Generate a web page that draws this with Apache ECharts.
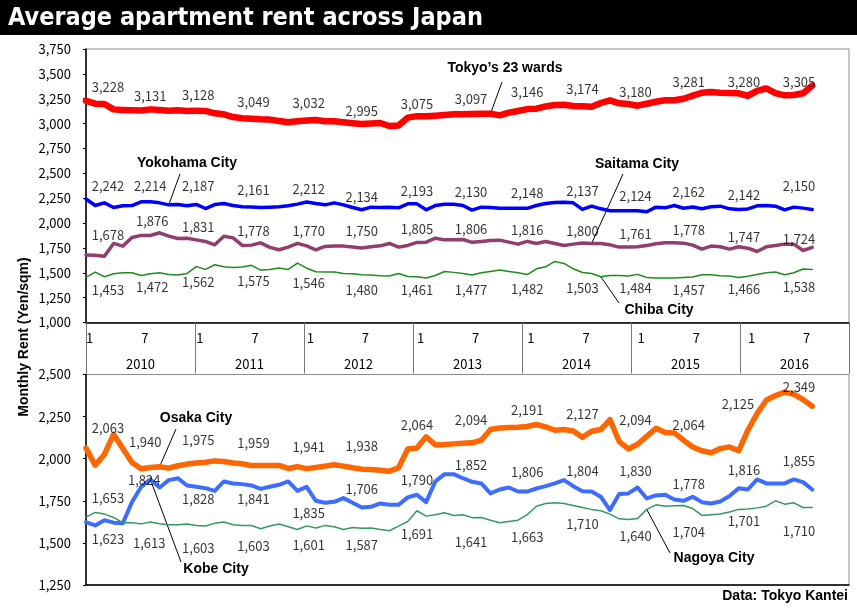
<!DOCTYPE html>
<html><head><meta charset="utf-8">
<script src="https://cdn.jsdelivr.net/npm/echarts@6/dist/echarts.min.js"></script>
<style>html,body{margin:0;padding:0;background:#fff}#c{width:857px;height:612px}</style>
</head><body><div id="c"></div>
<script>
// ---------- data ----------
const years = ['2010','2011','2012','2013','2014','2015','2016'];
const monthTickText = ['1','7'];           // shown at month 1 and month 7 of each year
const labelMonthIdx = [0,6,12,18,24,30,36,42,48,54,60,66,72,78];

const tokyo = [3228,3200,3197,3143,3137,3133,3131,3143,3137,3130,3133,3127,
3128,3127,3103,3093,3066,3053,3049,3043,3040,3026,3013,3023,
3032,3036,3023,3023,3013,3003,2995,3000,3006,2976,2980,3060,
3075,3073,3080,3086,3093,3093,3097,3100,3100,3083,3110,3127,
3146,3150,3173,3187,3190,3177,3174,3170,3207,3234,3204,3197,
3180,3200,3220,3234,3234,3250,3281,3310,3317,3310,3307,3304,
3280,3328,3354,3307,3284,3287,3305,3381];
const yokohama = [2242,2176,2203,2156,2173,2176,2214,2213,2203,2183,2186,2173,
2187,2146,2186,2196,2176,2163,2161,2156,2160,2163,2173,2190,
2212,2196,2183,2203,2183,2156,2134,2160,2156,2160,2153,2193,
2193,2133,2176,2190,2190,2176,2130,2160,2156,2149,2149,2149,
2148,2176,2196,2206,2210,2203,2137,2170,2143,2123,2123,2123,
2124,2113,2160,2153,2176,2149,2162,2143,2163,2170,2143,2136,
2142,2173,2176,2170,2133,2160,2150,2136];
const saitama = [1678,1677,1667,1795,1768,1855,1876,1875,1902,1868,1845,1848,
1831,1815,1781,1868,1851,1775,1778,1801,1755,1731,1758,1795,
1770,1731,1765,1768,1768,1758,1750,1761,1771,1795,1758,1775,
1805,1808,1848,1831,1831,1835,1806,1815,1825,1828,1808,1788,
1816,1795,1815,1795,1775,1788,1800,1795,1795,1781,1758,1758,
1761,1775,1791,1801,1801,1798,1778,1738,1768,1761,1738,1761,
1747,1714,1761,1775,1788,1788,1724,1755];
const chiba = [1453,1507,1460,1490,1500,1500,1472,1490,1500,1483,1477,1493,
1562,1534,1581,1560,1554,1557,1575,1527,1534,1547,1534,1597,
1546,1510,1507,1507,1493,1490,1480,1477,1470,1467,1493,1463,
1461,1447,1473,1513,1504,1493,1477,1500,1513,1527,1513,1500,
1482,1540,1560,1614,1594,1540,1503,1493,1460,1473,1473,1467,
1484,1453,1447,1447,1447,1453,1457,1480,1480,1470,1467,1453,
1466,1483,1500,1507,1480,1500,1538,1534];
const osaka = [2063,1962,2025,2145,2060,1977,1940,1948,1952,1944,1958,1968,
1975,1979,1987,1983,1975,1970,1959,1960,1960,1960,1942,1952,
1941,1948,1956,1964,1956,1946,1938,1936,1932,1926,1946,2058,
2064,2130,2082,2084,2088,2092,2094,2110,2173,2183,2185,2187,
2191,2203,2189,2169,2173,2165,2127,2163,2173,2232,2102,2058,
2086,2133,2181,2155,2153,2110,2070,2047,2035,2060,2070,2047,
2169,2268,2347,2375,2395,2383,2351,2312];
const kobe = [1623,1604,1635,1620,1616,1742,1833,1877,1829,1873,1884,1841,
1833,1825,1809,1865,1853,1849,1841,1821,1833,1845,1865,1809,
1833,1750,1738,1744,1766,1738,1710,1714,1734,1726,1726,1770,
1786,1742,1865,1908,1908,1884,1863,1853,1794,1817,1829,1805,
1805,1823,1837,1853,1873,1837,1807,1805,1774,1695,1790,1794,
1829,1764,1782,1786,1758,1750,1774,1742,1734,1746,1778,1825,
1817,1877,1853,1853,1853,1877,1861,1817];
const nagoya = [1653,1681,1671,1651,1620,1620,1613,1624,1614,1608,1608,1612,
1603,1600,1616,1624,1608,1604,1603,1584,1600,1612,1596,1580,
1601,1588,1604,1596,1580,1592,1587,1588,1580,1572,1600,1627,
1691,1659,1667,1679,1663,1667,1650,1651,1635,1620,1627,1635,
1668,1718,1734,1738,1734,1722,1710,1699,1691,1671,1643,1639,
1645,1699,1726,1718,1720,1722,1704,1663,1667,1671,1683,1699,
1701,1708,1718,1750,1730,1738,1710,1710];

const tokyoLabels    = [3228,3131,3128,3049,3032,2995,3075,3097,3146,3174,3180,3281,3280,3305];
const yokohamaLabels = [2242,2214,2187,2161,2212,2134,2193,2130,2148,2137,2124,2162,2142,2150];
const saitamaLabels  = [1678,1876,1831,1778,1770,1750,1805,1806,1816,1800,1761,1778,1747,1724];
const chibaLabels    = [1453,1472,1562,1575,1546,1480,1461,1477,1482,1503,1484,1457,1466,1538];
const osakaLabels    = [2063,1940,1975,1959,1941,1938,2064,2094,2191,2127,2094,2064,2125,2349];
const kobeLabels     = [1623,1824,1828,1841,1835,1706,1790,1852,1806,1804,1830,1778,1816,1855];
const nagoyaLabels   = [1653,1613,1603,1603,1601,1587,1691,1641,1663,1710,1640,1704,1701,1710];

// ---------- styles (label placement offsets, px) ----------
const dxCommon   = [22,9,2,2,2,0,0,-1,0,0,-2,-4,-4,-4];
const tokyoDy    = [-14,-14,-16,-17,-17,-13,-12,-15,-17,-17,-14,-14,-14,-11];
const yokohamaDy = [-13,-16,-18,-17,-13,-13,-13,-18,-15,-18,-15,-15,-14,-22];
const saitamaDy  = [-20,-14,-13,-14,-15,-17,-13,-13,-11,-12,-13,-15,-11,-11];
const chibaDy    = [13,12,15,16,15,15,13,15,14,16,14,13,13,18];
const osakaDy    = [-20,-27,-23,-23,-22,-23,-23,-23,-16,-23,-24,-22,-26,-13];
const kobeDy     = [17,-7,12,14,26,-18,-15,-17,-19,-20,-16,-13,-19,-21];
const nagoyaDy   = [-19,19,23,21,19,17,23,24,22,17,18,24,12,24];

const months = years.flatMap(y => Array.from({length:12}, (_, m) => y + '-' + (m + 1)));
const fmt = v => Number(v).toLocaleString('en-US');
const NUMFONT = "'Noto Sans CJK JP', 'Liberation Sans', sans-serif";
const BOLDFONT = "'Liberation Sans', Arial, sans-serif";

function lineSeries(name, data, color, width, xi, yi, z) {
  return { name, type:'line', data, xAxisIndex:xi, yAxisIndex:yi, showSymbol:false, symbol:'none',
    lineStyle:{color, width, join:'round', cap:'round'}, itemStyle:{color}, z, silent:true, animation:false };
}
function labelSeries(values, labels, dys, xi, yi, dxOverride) {
  return { type:'scatter', xAxisIndex:xi, yAxisIndex:yi, symbolSize:1, silent:true, animation:false, z:10,
    itemStyle:{color:'rgba(0,0,0,0)'},
    data: labels.map((t, k) => ({
      value:[labelMonthIdx[k], values[labelMonthIdx[k]]],
      label:{show:true, position:'inside', formatter: fmt(t),
        offset:[(dxOverride && dxOverride[k] != null) ? dxOverride[k] : dxCommon[k], dys[k]],
        color:'#000', fontSize:13, fontFamily:NUMFONT}
    }))
  };
}

const chart = echarts.init(document.getElementById('c'), null, {renderer:'canvas'});
const yLabel = {color:'#000', fontSize:13, fontFamily:NUMFONT, margin:15, formatter: v => fmt(v)};

chart.setOption({
  animation:false,
  backgroundColor:'#fff',
  grid:[
    {left:86, top:49, width:763, height:273.5, show:true, borderColor:'#8c8c8c', borderWidth:1},
    {left:86, top:374.5, width:763, height:210.5, show:true, borderColor:'#8c8c8c', borderWidth:1}
  ],
  xAxis:[
    {type:'category', gridIndex:0, data:months, boundaryGap:false,
      axisLine:{lineStyle:{color:'#000', width:1.5}}, axisTick:{show:false},
      axisLabel:{interval:0, align:'left', margin:9, color:'#000', fontSize:13, fontFamily:NUMFONT,
        formatter:(v, i) => (i % 12 === 0 ? monthTickText[0] : (i % 12 === 6 ? monthTickText[1] : ''))}},
    {type:'category', gridIndex:0, data:years, boundaryGap:true, position:'bottom',
      axisLine:{show:false}, axisTick:{show:true, length:51, lineStyle:{color:'#777'}},
      axisLabel:{margin:35, color:'#000', fontSize:13, fontFamily:NUMFONT}},
    {type:'category', gridIndex:1, data:months, boundaryGap:false,
      axisLine:{lineStyle:{color:'#000', width:1.5}}, axisTick:{show:false}, axisLabel:{show:false}}
  ],
  yAxis:[
    {type:'value', gridIndex:0, min:1000, max:3750, interval:250, splitLine:{show:false},
      axisLine:{show:true, lineStyle:{color:'#000', width:1.5}}, axisTick:{show:true, length:3, lineStyle:{color:'#000'}},
      axisLabel:yLabel},
    {type:'value', gridIndex:1, min:1250, max:2500, interval:250, splitLine:{show:false},
      axisLine:{show:true, lineStyle:{color:'#000', width:1.5}}, axisTick:{show:true, length:3, lineStyle:{color:'#000'}},
      axisLabel:yLabel}
  ],
  series:[
    lineSeries("Tokyo's 23 wards", tokyo, '#ff0000', 6.5, 0, 0, 4),
    lineSeries('Yokohama City', yokohama, '#0000ff', 3.5, 0, 0, 4),
    lineSeries('Saitama City', saitama, '#923d6c', 3.5, 0, 0, 4),
    lineSeries('Chiba City', chiba, '#1c8c1c', 1.5, 0, 0, 4),
    lineSeries('Osaka City', osaka, '#ff6600', 5.5, 2, 1, 4),
    lineSeries('Kobe City', kobe, '#3d6dff', 4, 2, 1, 4),
    lineSeries('Nagoya City', nagoya, '#339963', 1.5, 2, 1, 4),
    labelSeries(tokyo, tokyoLabels, tokyoDy, 0, 0),
    labelSeries(yokohama, yokohamaLabels, yokohamaDy, 0, 0),
    labelSeries(saitama, saitamaLabels, saitamaDy, 0, 0, [null,11]),
    labelSeries(chiba, chibaLabels, chibaDy, 0, 0, [null,11]),
    labelSeries(osaka, osakaLabels, osakaDy, 2, 1, [null,4,null,null,null,null,null,null,null,null,null,null,-10]),
    labelSeries(kobe, kobeLabels, kobeDy, 2, 1, [null,3]),
    labelSeries(nagoya, nagoyaLabels, nagoyaDy, 2, 1, [null,8])
  ]
});

// ---------- annotations ----------
function anchor(seriesIndex, data, i) {
  return chart.convertToPixel({seriesIndex}, [i, data[i]]);
}
const callouts = [
  {text:'Tokyo\u2019s 23 wards', tx:505, ty:68, lx:502, ly:82, s:0, d:tokyo, i:44},
  {text:'Yokohama City', tx:187, ty:163, lx:180, ly:174, s:1, d:yokohama, i:9},
  {text:'Saitama City', tx:637, ty:164, lx:623, ly:174, s:2, d:saitama, i:55},
  {text:'Chiba City', tx:659, ty:310, lx:619, ly:303, s:3, d:chiba, i:56},
  {text:'Osaka City', tx:196, ty:418, lx:176, ly:429, s:4, d:osaka, i:8},
  {text:'Kobe City', tx:216, ty:569, lx:181, ly:562, s:5, d:kobe, i:7},
  {text:'Nagoya City', tx:714, ty:558, lx:670, ly:553, s:6, d:nagoya, i:61}
];
const graphics = [
  {type:'rect', shape:{x:0, y:0, width:857, height:35}, style:{fill:'#000'}, z:100},
  {type:'text', x:8, y:18, z:101, style:{text:'Average apartment rent across Japan', fill:'#fff',
    font:"bold 25px 'DejaVu Sans Condensed', 'Liberation Sans Narrow', sans-serif", verticalAlign:'middle', align:'left'}},
  {type:'text', x:24, y:337, rotation:Math.PI/2, z:100, style:{text:'Monthly Rent (Yen/sqm)', fill:'#000',
    font:'bold 14px ' + BOLDFONT, align:'center', verticalAlign:'middle'}},
  {type:'text', x:848, y:596, z:100, style:{text:'Data: Tokyo Kantei', fill:'#000',
    font:'bold 14px ' + BOLDFONT, align:'right', verticalAlign:'middle'}}
];
callouts.forEach(c => {
  const p = anchor(c.s, c.d, c.i);
  graphics.push({type:'line', z:3, shape:{x1:c.lx, y1:c.ly, x2:p[0], y2:p[1]}, style:{stroke:'#000', lineWidth:1}});
  graphics.push({type:'text', x:c.tx, y:c.ty, z:100, style:{text:c.text, fill:'#000',
    font:'bold 14px ' + BOLDFONT, align:'center', verticalAlign:'middle'}});
});
chart.setOption({graphic:graphics});
</script>
</body></html>
